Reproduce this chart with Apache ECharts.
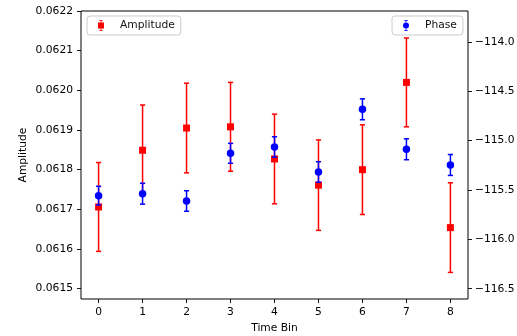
<!DOCTYPE html>
<html>
<head>
<meta charset="utf-8">
<script src="https://cdn.jsdelivr.net/npm/echarts@6/dist/echarts.min.js"></script>
<style>
html,body{margin:0;padding:0;background:#fff;}
#chart{width:517px;height:336px;}
</style>
</head>
<body>
<div id="chart"></div>
<script>
const bins = [0, 1, 2, 3, 4, 5, 6, 7, 8];
const amplitude = [0.061706, 0.061849, 0.061905, 0.061908, 0.061827, 0.061761, 0.061800, 0.062020, 0.061654];
const amplitudeErr = [0.000112, 0.000114, 0.000113, 0.000112, 0.000113, 0.000114, 0.000113, 0.000112, 0.000113];
const phase = [-115.557, -115.537, -115.611, -115.128, -115.064, -115.317, -114.682, -115.087, -115.246];
const phaseErr = [0.095, 0.106, 0.104, 0.101, 0.104, 0.104, 0.106, 0.106, 0.106];
const meanAmplitude = 0.061826;
const ampTicks = [0.0615, 0.0616, 0.0617, 0.0618, 0.0619, 0.0620, 0.0621, 0.0622];
const phaseTicks = [-116.5, -116.0, -115.5, -115.0, -114.5, -114.0];
const binTicks = [0, 1, 2, 3, 4, 5, 6, 7, 8];

const FONT = 'DejaVu Sans';
const FS = 10.7;
const RED = '#ff0000';
const BLUE = '#0000ff';

function errRender(color, capHalf) {
  return function (params, api) {
    const x = api.value(0), y = api.value(1), e = api.value(2);
    const top = api.coord([x, y + e]);
    const bot = api.coord([x, y - e]);
    const style = { stroke: color, lineWidth: 1.5 };
    return {
      type: 'group',
      children: [
        { type: 'line', shape: { x1: top[0], y1: top[1], x2: bot[0], y2: bot[1] }, style: style },
        { type: 'line', shape: { x1: top[0] - capHalf, y1: top[1], x2: top[0] + capHalf, y2: top[1] }, style: style },
        { type: 'line', shape: { x1: bot[0] - capHalf, y1: bot[1], x2: bot[0] + capHalf, y2: bot[1] }, style: style }
      ]
    };
  };
}

const ampIcon = 'path://M2.5 0 L9.5 0 L9.5 1.3 L6.8 1.3 L6.8 5 L12 5 L12 17 L6.8 17 L6.8 20.7 L9.5 20.7 L9.5 22 L2.5 22 L2.5 20.7 L5.2 20.7 L5.2 17 L0 17 L0 5 L5.2 5 L5.2 1.3 L2.5 1.3 Z';
const phaseIcon = 'path://M2.5 0 L9.5 0 L9.5 1.3 L6.8 1.3 L6.8 20.7 L9.5 20.7 L9.5 22 L2.5 22 L2.5 20.7 L5.2 20.7 L5.2 1.3 L2.5 1.3 Z M0 11 A6 6 0 1 1 12 11 A6 6 0 1 1 0 11 Z';

const chart = echarts.init(document.getElementById('chart'), null, { renderer: 'canvas' });

const legendCommon = {
  orient: 'horizontal',
  itemWidth: 6,
  itemHeight: 11,
  padding: [4, 6, 4, 11],
  borderColor: '#cccccc',
  borderWidth: 1,
  borderRadius: 3,
  backgroundColor: 'rgba(255,255,255,0.8)',
  textStyle: { fontFamily: FONT, fontSize: FS, color: '#111', padding: [0, 0, 0, 11] },
  selectedMode: false
};

const tickStyle = { color: '#000', width: 0.9 };

chart.setOption({
  animation: false,
  backgroundColor: '#fff',
  textStyle: { fontFamily: FONT },
  grid: {
    left: 81, right: 49, top: 11, bottom: 37,
    outerBoundsMode: 'none', containLabel: false,
    show: true, borderColor: '#000', borderWidth: 1, backgroundColor: 'transparent'
  },
  legend: [
    Object.assign({}, legendCommon, { left: 87, top: 16, data: [{ name: 'Amplitude', icon: ampIcon }] }),
    Object.assign({}, legendCommon, { left: 392, top: 16, data: [{ name: 'Phase', icon: phaseIcon }] })
  ],
  xAxis: {
    type: 'value', min: -0.4, max: 8.4,
    name: 'Time Bin', nameLocation: 'middle', nameGap: 24, nameMoveOverlap: false,
    nameTextStyle: { fontFamily: FONT, fontSize: FS, color: '#000' },
    axisLine: { show: false, onZero: false },
    axisTick: { show: true, inside: false, length: 4, lineStyle: tickStyle, customValues: binTicks },
    axisLabel: { fontFamily: FONT, fontSize: FS, color: '#000', margin: 8, customValues: binTicks,
      formatter: v => String(Math.round(v)) },
    splitLine: { show: false }
  },
  yAxis: [
    {
      type: 'value', position: 'left', min: 0.061474, max: 0.0622,
      name: 'Amplitude', nameLocation: 'middle', nameGap: 52, nameMoveOverlap: false,
      nameTextStyle: { fontFamily: FONT, fontSize: FS, color: '#000' },
      axisLine: { show: false, onZero: false },
      axisTick: { show: true, inside: false, length: 4, lineStyle: tickStyle, customValues: ampTicks },
      axisLabel: { fontFamily: FONT, fontSize: FS, color: '#000', margin: 8, customValues: ampTicks,
        formatter: v => v.toFixed(4) },
      splitLine: { show: false }
    },
    {
      type: 'value', position: 'right', min: -116.604, max: -113.686,
      axisLine: { show: false, onZero: false },
      axisTick: { show: true, inside: false, length: 4, lineStyle: tickStyle, customValues: phaseTicks },
      axisLabel: { fontFamily: FONT, fontSize: FS, color: '#000', margin: 7, customValues: phaseTicks,
        formatter: v => v.toFixed(1).replace('-', '\u2212') },
      splitLine: { show: false }
    }
  ],
  series: [
    {
      name: 'ampErr', type: 'custom', xAxisIndex: 0, yAxisIndex: 0, z: 2,
      renderItem: errRender(RED, 2.6),
      encode: { x: 0, y: 1 },
      data: bins.map((b, i) => [b, amplitude[i], amplitudeErr[i]])
    },
    {
      name: 'Amplitude', type: 'scatter', xAxisIndex: 0, yAxisIndex: 0, z: 3,
      symbol: 'rect', symbolSize: 7,
      itemStyle: { color: RED, opacity: 1 },
      data: bins.map((b, i) => [b, amplitude[i]]),
      markLine: {
        silent: true, symbol: 'none', label: { show: false },
        lineStyle: { color: RED, width: 1.5, type: 'solid' },
        data: [{ yAxis: meanAmplitude }]
      }
    },
    {
      name: 'phaseErr', type: 'custom', xAxisIndex: 0, yAxisIndex: 1, z: 4,
      renderItem: errRender(BLUE, 2.6),
      encode: { x: 0, y: 1 },
      data: bins.map((b, i) => [b, phase[i], phaseErr[i]])
    },
    {
      name: 'Phase', type: 'scatter', xAxisIndex: 0, yAxisIndex: 1, z: 5,
      symbol: 'circle', symbolSize: 7.5,
      itemStyle: { color: BLUE, opacity: 1 },
      data: bins.map((b, i) => [b, phase[i]])
    }
  ]
});
</script>
</body>
</html>
